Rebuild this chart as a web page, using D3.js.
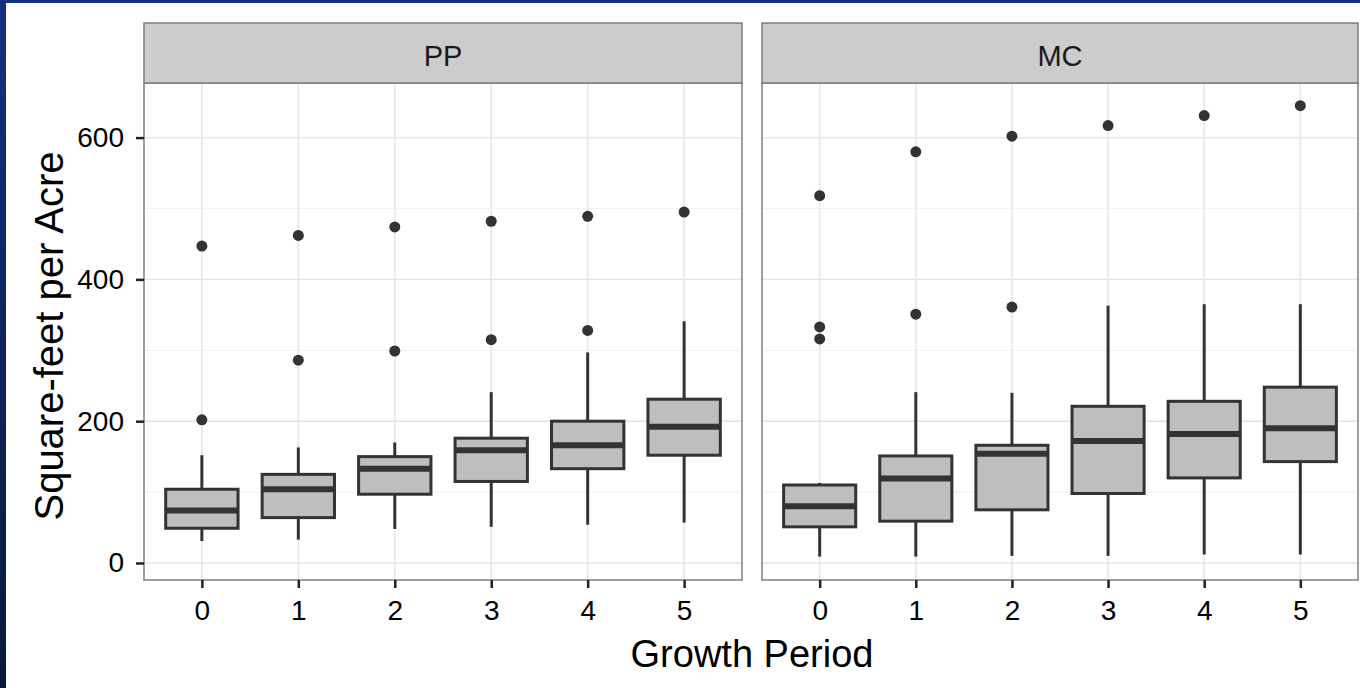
<!DOCTYPE html>
<html>
<head>
<meta charset="utf-8">
<script src="https://cdn.jsdelivr.net/npm/d3@7"></script>
<style>
  html, body { margin: 0; padding: 0; background: #ffffff; }
  svg { display: block; }
  text { font-family: "Liberation Sans", Arial, sans-serif; }
</style>
</head>
<body>
<script>
// ---- data ----
const periods = ["0", "1", "2", "3", "4", "5"];
const sites = ["PP", "MC"];
const yTicks = [0, 200, 400, 600];
const yMinor = [100, 300, 500];

const ppLow  = [31, 33, 48, 51, 54, 57];
const ppQ1   = [49, 64, 97, 115, 133, 152];
const ppMed  = [74, 104, 133, 159, 166, 192];
const ppQ3   = [104, 125, 150, 176, 200, 231];
const ppHigh = [152, 163, 170, 241, 297, 341];
const ppOut  = [[202, 447], [286, 462], [299, 474], [315, 482], [328, 489], [495]];

const mcLow  = [9, 9, 10, 10, 12, 12];
const mcQ1   = [51, 59, 75, 98, 120, 143];
const mcMed  = [80, 119, 154, 172, 182, 190];
const mcQ3   = [110, 151, 166, 221, 228, 248];
const mcHigh = [113, 241, 240, 363, 365, 365];
const mcOut  = [[316, 333, 518], [351, 580], [361, 602], [617], [631], [645]];

const yDomain = [-24, 677];

// ---- build ----
const W = 1360, H = 688;
const svg = d3.select("body").append("svg").attr("width", W).attr("height", H);

const defs = svg.append("defs");
const grad = defs.append("linearGradient").attr("id", "navy").attr("x1", 0).attr("y1", 0).attr("x2", 0).attr("y2", 1);
grad.append("stop").attr("offset", "0%").attr("stop-color", "#15307c");
grad.append("stop").attr("offset", "100%").attr("stop-color", "#0a1838");

svg.append("rect").attr("x", 0).attr("y", 0).attr("width", W).attr("height", H).attr("fill", "#ffffff");
svg.append("rect").attr("x", 0).attr("y", 0).attr("width", 6).attr("height", H).attr("fill", "url(#navy)");
svg.append("rect").attr("x", 0).attr("y", 0).attr("width", W).attr("height", 3).attr("fill", "#15307c");

const panelTop = 83, panelBottom = 580, stripTop = 23;
const panels = [
  { name: sites[0], x0: 144, x1: 742, low: ppLow, q1: ppQ1, med: ppMed, q3: ppQ3, high: ppHigh, out: ppOut },
  { name: sites[1], x0: 762, x1: 1358, low: mcLow, q1: mcQ1, med: mcMed, q3: mcQ3, high: mcHigh, out: mcOut }
];

const y = d3.scaleLinear().domain(yDomain).range([panelBottom, panelTop]);

panels.forEach((p, pi) => {
  const x = d3.scalePoint().domain(periods).range([p.x0, p.x1]).padding(0.6);
  const step = x.step();
  const bw = step * 0.75;
  const g = svg.append("g");

  g.append("rect").attr("x", p.x0).attr("y", panelTop).attr("width", p.x1 - p.x0)
    .attr("height", panelBottom - panelTop).attr("fill", "#ffffff");

  g.selectAll(".minor").data(yMinor).enter().append("line")
    .attr("x1", p.x0).attr("x2", p.x1)
    .attr("y1", d => y(d)).attr("y2", d => y(d))
    .attr("stroke", "#f3f3f3").attr("stroke-width", 1.2);
  g.selectAll(".majorY").data(yTicks).enter().append("line")
    .attr("x1", p.x0).attr("x2", p.x1)
    .attr("y1", d => y(d)).attr("y2", d => y(d))
    .attr("stroke", "#e4e4e4").attr("stroke-width", 1.4);
  g.selectAll(".majorX").data(periods).enter().append("line")
    .attr("x1", d => x(d)).attr("x2", d => x(d))
    .attr("y1", panelTop).attr("y2", panelBottom)
    .attr("stroke", "#e4e4e4").attr("stroke-width", 1.4);

  const rows = periods.map((d, i) => ({
    k: d, low: p.low[i], q1: p.q1[i], med: p.med[i], q3: p.q3[i], high: p.high[i], out: p.out[i]
  }));
  const bg = g.selectAll(".box").data(rows).enter().append("g");
  bg.append("line").attr("x1", d => x(d.k)).attr("x2", d => x(d.k))
    .attr("y1", d => y(d.high)).attr("y2", d => y(d.q3))
    .attr("stroke", "#333333").attr("stroke-width", 3);
  bg.append("line").attr("x1", d => x(d.k)).attr("x2", d => x(d.k))
    .attr("y1", d => y(d.q1)).attr("y2", d => y(d.low))
    .attr("stroke", "#333333").attr("stroke-width", 3);
  bg.append("rect").attr("x", d => x(d.k) - bw / 2).attr("width", bw)
    .attr("y", d => y(d.q3)).attr("height", d => y(d.q1) - y(d.q3))
    .attr("fill", "#bebebe").attr("stroke", "#333333").attr("stroke-width", 3);
  bg.append("line").attr("x1", d => x(d.k) - bw / 2).attr("x2", d => x(d.k) + bw / 2)
    .attr("y1", d => y(d.med)).attr("y2", d => y(d.med))
    .attr("stroke", "#333333").attr("stroke-width", 6);
  bg.selectAll("circle").data(d => d.out.map(v => ({ k: d.k, v }))).enter().append("circle")
    .attr("cx", d => x(d.k)).attr("cy", d => y(d.v)).attr("r", 5.5).attr("fill", "#333333");

  g.append("rect").attr("x", p.x0).attr("y", panelTop).attr("width", p.x1 - p.x0)
    .attr("height", panelBottom - panelTop).attr("fill", "none")
    .attr("stroke", "#7f7f7f").attr("stroke-width", 1.5);

  g.append("rect").attr("x", p.x0).attr("y", stripTop).attr("width", p.x1 - p.x0)
    .attr("height", panelTop - stripTop).attr("fill", "#cccccc")
    .attr("stroke", "#7f7f7f").attr("stroke-width", 1.5);
  g.append("text").attr("x", (p.x0 + p.x1) / 2).attr("y", 66)
    .attr("text-anchor", "middle").attr("font-size", 29).attr("fill", "#1a1a1a").text(p.name);

  const xa = g.append("g").attr("transform", `translate(0,${panelBottom})`)
    .call(d3.axisBottom(x).tickSize(8).tickPadding(12));
  xa.select(".domain").remove();
  xa.selectAll(".tick line").attr("stroke", "#222").attr("stroke-width", 2.5);
  xa.selectAll(".tick text").attr("font-size", 28).attr("fill", "#000")
    .attr("font-family", "Liberation Sans, Arial, sans-serif");

  if (pi === 0) {
    const ya = g.append("g").attr("transform", `translate(${p.x0},0)`)
      .call(d3.axisLeft(y).tickValues(yTicks).tickSize(8).tickPadding(12));
    ya.select(".domain").remove();
    ya.selectAll(".tick line").attr("stroke", "#222").attr("stroke-width", 2.5);
    ya.selectAll(".tick text").attr("font-size", 28).attr("fill", "#000")
      .attr("font-family", "Liberation Sans, Arial, sans-serif");
  }
});

svg.append("text").attr("x", 752).attr("y", 667).attr("text-anchor", "middle")
  .attr("font-size", 38).attr("fill", "#000").text("Growth Period");
svg.append("text").attr("transform", `translate(63,336) rotate(-90)`)
  .attr("text-anchor", "middle").attr("font-size", 40).attr("fill", "#000").text("Square-feet per Acre");
</script>
</body>
</html>
